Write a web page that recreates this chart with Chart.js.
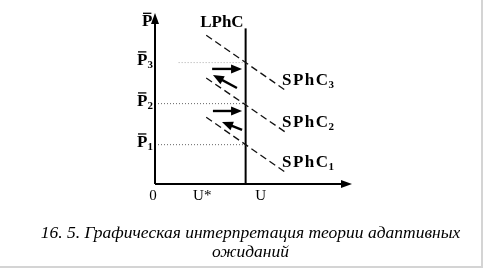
<!DOCTYPE html>
<html>
<head>
<meta charset="utf-8">
<script src="https://cdn.jsdelivr.net/npm/chart.js@4.4.0/dist/chart.umd.min.js"></script>
<style>
  body { margin: 0; background: #fff; }
  #wrap { position: relative; width: 485px; height: 270px; }
  #caption {
    position: absolute; left: 8px; top: 223px; width: 485px;
    text-align: center; font: italic 17.5px "Liberation Serif", serif;
    line-height: 19px; color: #000;
  }
  #frame {
    position: absolute; left: 0; top: 0; width: 481px; height: 266px;
    border-right: 2px solid #d4d4d4; border-bottom: 2px solid #d4d4d4;
  }
</style>
</head>
<body>
<div id="wrap">
  <canvas id="chart" width="485" height="270"></canvas>
  <div id="caption">16. 5. Графическая интерпретация теории адаптивных<br>ожиданий</div>
  <div id="frame"></div>
</div>
<script>
// economic units: U on x (0..10), expected price level P on y (0..10)
const uStar = 2.4;
const uNatural = 4.6;
const lphcTop = 9.1;

const pLevels = [2.3, 4.7, 7.1];          // P1, P2, P3
const pNames = ["1", "2", "3"];
const pDotStart = [0, 0, 1.2];             // where the dotted guide starts

// short-run Phillips curves, two end points each
const sphcX = [2.6, 6.6];
const sphc1 = [3.9, 0.7];
const sphc2 = [6.2, 3.05];
const sphc3 = [8.7, 5.5];
const sphcSets = [sphc1, sphc2, sphc3];

// adjustment arrows [x1, y1, x2, y2]
const arrows = [
  [2.9, 6.73, 4.42, 6.73],
  [4.16, 5.61, 2.94, 6.37],
  [2.94, 4.27, 4.42, 4.27],
  [4.42, 3.16, 3.40, 3.63]
];

const serif = '"Liberation Serif", "Times New Roman", serif';

const datasets = [];
sphcSets.forEach((s) => {
  datasets.push({
    data: [{ x: sphcX[0], y: s[0] }, { x: sphcX[1], y: s[1] }],
    borderColor: "#111", borderWidth: 1.3, borderDash: [7, 4]
  });
});
pLevels.forEach((p, i) => {
  datasets.push({
    data: [{ x: pDotStart[i], y: p }, { x: uNatural, y: p }],
    borderColor: i === 2 ? "#aaa" : "#666", borderWidth: 1, borderDash: [1, 2]
  });
});
datasets.push({
  data: [{ x: uNatural, y: 0 }, { x: uNatural, y: lphcTop }],
  borderColor: "#000", borderWidth: 2
});

function head(ctx, x1, y1, x2, y2, len, wid) {
  const a = Math.atan2(y2 - y1, x2 - x1);
  ctx.beginPath();
  ctx.moveTo(x2, y2);
  ctx.lineTo(x2 - len * Math.cos(a) + wid * Math.sin(a), y2 - len * Math.sin(a) - wid * Math.cos(a));
  ctx.lineTo(x2 - len * Math.cos(a) - wid * Math.sin(a), y2 - len * Math.sin(a) + wid * Math.cos(a));
  ctx.closePath();
  ctx.fill();
}

function barP(ctx, x, y, size, sub) {
  // P with an overbar and optional subscript, x = left, y = middle
  ctx.font = "bold " + size + "px " + serif;
  ctx.textBaseline = "middle";
  ctx.textAlign = "left";
  const w = ctx.measureText("P").width;
  ctx.fillText("P", x, y);
  ctx.fillRect(x + 1, y - size * 0.55, w - 2, 1.3);
  if (sub) {
    ctx.font = "bold " + Math.round(size * 0.65) + "px " + serif;
    ctx.fillText(sub, x + w, y + size * 0.25);
  }
}

const overlay = {
  id: "overlay",
  afterDatasetsDraw(chart) {
    const ctx = chart.ctx;
    const xs = chart.scales.x, ys = chart.scales.y;
    const ox = xs.getPixelForValue(0), oy = ys.getPixelForValue(0);
    const xe = xs.getPixelForValue(10), ye = ys.getPixelForValue(10);
    ctx.save();
    ctx.strokeStyle = "#000";
    ctx.fillStyle = "#000";
    // axes
    ctx.lineWidth = 2;
    ctx.beginPath();
    ctx.moveTo(ox, oy); ctx.lineTo(xe - 4, oy);
    ctx.moveTo(ox, oy); ctx.lineTo(ox, ye + 4);
    ctx.stroke();
    head(ctx, ox, oy, xe, oy, 11, 4);
    head(ctx, ox, oy, ox, ye, 11, 4);

    // arrows
    ctx.lineWidth = 2.4;
    arrows.forEach((a) => {
      const x1 = xs.getPixelForValue(a[0]), y1 = ys.getPixelForValue(a[1]);
      const x2 = xs.getPixelForValue(a[2]), y2 = ys.getPixelForValue(a[3]);
      const ang = Math.atan2(y2 - y1, x2 - x1);
      ctx.beginPath();
      ctx.moveTo(x1, y1);
      ctx.lineTo(x2 - 6 * Math.cos(ang), y2 - 6 * Math.sin(ang));
      ctx.stroke();
      head(ctx, x1, y1, x2, y2, 11, 4.5);
    });

    // axis labels
    ctx.font = "15px " + serif;
    ctx.textBaseline = "middle";
    ctx.textAlign = "center";
    ctx.fillText("0", ox - 2, oy + 12);
    ctx.fillText("U*", xs.getPixelForValue(uStar), oy + 12);
    ctx.fillText("U", xs.getPixelForValue(uNatural) + 15, oy + 12);

    barP(ctx, ox - 13, ye + 9, 17, "");
    pLevels.forEach((p, i) => {
      barP(ctx, ox - 18, ys.getPixelForValue(p) - 2, 17, pNames[i]);
    });

    ctx.font = "bold 17px " + serif;
    ctx.textAlign = "right";
    ctx.fillText("LPhC", xs.getPixelForValue(uNatural) - 2, ys.getPixelForValue(lphcTop) - 6);

    ctx.textAlign = "left";
    sphcSets.forEach((s, i) => {
      const px = xs.getPixelForValue(sphcX[1]) - 3;
      const py = ys.getPixelForValue(s[1]) - 9;
      ctx.font = "bold 17px " + serif;
      ctx.letterSpacing = "1.5px";
      ctx.fillText("SPhC", px, py);
      const w = ctx.measureText("SPhC").width;
      ctx.letterSpacing = "0px";
      ctx.font = "bold 11px " + serif;
      ctx.fillText(String(i + 1), px + w - 1, py + 4);
    });
    ctx.restore();
  }
};

new Chart(document.getElementById("chart"), {
  type: "scatter",
  data: { datasets: datasets },
  options: {
    responsive: false,
    animation: false,
    showLine: true,
    layout: { padding: { left: 155, right: 133, top: 13, bottom: 86 } },
    elements: { point: { radius: 0 }, line: { tension: 0 } },
    datasets: { scatter: { clip: false } },
    scales: {
      x: { type: "linear", min: 0, max: 10, display: false },
      y: { type: "linear", min: 0, max: 10, display: false }
    },
    plugins: { legend: { display: false }, tooltip: { enabled: false } }
  },
  plugins: [overlay]
});
</script>
</body>
</html>
